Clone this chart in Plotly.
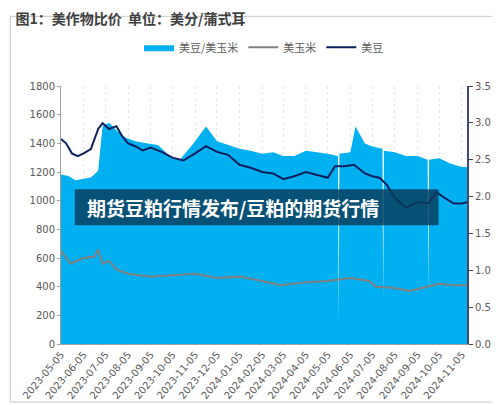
import plotly.graph_objects as go

ratio_dates = ["2023-05-05", "2023-05-15", "2023-05-25", "2023-06-05", "2023-06-15", "2023-06-25",
               "2023-07-01", "2023-07-10", "2023-07-20", "2023-08-01", "2023-08-15", "2023-09-01",
               "2023-09-15", "2023-10-01", "2023-10-15", "2023-11-01", "2023-11-20", "2023-12-05",
               "2023-12-20", "2024-01-05", "2024-01-20", "2024-02-05", "2024-02-20", "2024-03-05",
               "2024-03-20", "2024-04-05", "2024-04-20", "2024-05-05", "2024-05-19", "2024-05-20",
               "2024-05-21", "2024-06-05", "2024-06-12", "2024-06-25", "2024-07-05", "2024-07-19",
               "2024-07-20", "2024-07-21", "2024-08-05", "2024-08-20", "2024-09-05", "2024-09-19",
               "2024-09-20", "2024-09-21", "2024-10-05", "2024-10-20", "2024-11-05", "2024-11-12"]
ratio = [2.30, 2.28, 2.22, 2.24, 2.26, 2.35, 2.95, 3.00, 2.90, 2.80, 2.75, 2.72,
         2.70, 2.55, 2.50, 2.70, 2.95, 2.75, 2.70, 2.65, 2.62, 2.58, 2.60, 2.55,
         2.55, 2.62, 2.60, 2.58, 2.55, 0.30, 2.58, 2.60, 2.95, 2.72, 2.68, 2.65,
         0.60, 2.62, 2.60, 2.55, 2.55, 2.50, 0.70, 2.50, 2.52, 2.45, 2.40, 2.40]

soy_dates = ["2023-05-05", "2023-05-12", "2023-05-20", "2023-05-28", "2023-06-05", "2023-06-15",
             "2023-06-25", "2023-07-01", "2023-07-10", "2023-07-20", "2023-07-28", "2023-08-05",
             "2023-08-15", "2023-08-25", "2023-09-05", "2023-09-20", "2023-10-05", "2023-10-20",
             "2023-11-05", "2023-11-20", "2023-12-05", "2023-12-20", "2024-01-05", "2024-01-20",
             "2024-02-05", "2024-02-20", "2024-03-05", "2024-03-20", "2024-04-05", "2024-04-20",
             "2024-05-05", "2024-05-15", "2024-05-28", "2024-06-10", "2024-06-25", "2024-07-05",
             "2024-07-15", "2024-07-25", "2024-08-05", "2024-08-20", "2024-09-05", "2024-09-20",
             "2024-10-01", "2024-10-15", "2024-10-25", "2024-11-05", "2024-11-12"]
soy = [1430, 1400, 1330, 1310, 1330, 1360, 1500, 1540, 1500, 1520, 1450, 1400,
       1380, 1350, 1370, 1340, 1300, 1280, 1330, 1380, 1340, 1320, 1250, 1230,
       1200, 1190, 1150, 1170, 1200, 1180, 1160, 1240, 1240, 1250, 1190, 1170,
       1160, 1110, 1020, 950, 990, 980, 1060, 1010, 980, 980, 990]

corn_dates = ["2023-05-05", "2023-05-18", "2023-06-05", "2023-06-20", "2023-06-25", "2023-07-01",
              "2023-07-10", "2023-07-20", "2023-08-05", "2023-09-05", "2023-10-05", "2023-11-05",
              "2023-12-05", "2024-01-05", "2024-02-05", "2024-03-01", "2024-04-05", "2024-05-05",
              "2024-06-05", "2024-07-01", "2024-07-10", "2024-08-05", "2024-08-25", "2024-09-10",
              "2024-10-05", "2024-10-25", "2024-11-12"]
corn = [650, 560, 600, 610, 660, 560, 580, 520, 490, 470, 480, 490,
        460, 470, 440, 410, 430, 440, 460, 440, 400, 390, 370, 390,
        420, 410, 410]

tick_dates = ["2023-05-05", "2023-06-05", "2023-07-05", "2023-08-05", "2023-09-05", "2023-10-05",
              "2023-11-05", "2023-12-05", "2024-01-05", "2024-02-05", "2024-03-05", "2024-04-05",
              "2024-05-05", "2024-06-05", "2024-07-05", "2024-08-05", "2024-09-05", "2024-10-05",
              "2024-11-05"]

fig = go.Figure()

# ratio area sits on the base axis (drawn on the right), lines on the overlay so they stay on top
fig.add_trace(go.Scatter(x=ratio_dates, y=ratio, name="美豆/美玉米",
                         mode="lines", line=dict(width=0, color="#00b0f0"),
                         fill="tozeroy", fillcolor="#00b0f0"))
fig.add_trace(go.Scatter(x=corn_dates, y=corn, name="美玉米", mode="lines", yaxis="y2",
                         line=dict(color="#808080", width=2)))
fig.add_trace(go.Scatter(x=soy_dates, y=soy, name="美豆", mode="lines", yaxis="y2",
                         line=dict(color="#0d1f5c", width=2)))

tickfont = dict(size=10, color="#595959", family="DejaVu Sans")
fig.update_layout(
    width=500, height=405,
    margin=dict(l=53, r=41, t=78, b=62),
    paper_bgcolor="white", plot_bgcolor="white",
    font=dict(family="Noto Sans CJK SC"),
    title=dict(text="<b>图1：美作物比价  单位：美分/蒲式耳</b>", x=0.015, y=0.985,
               xanchor="left", yanchor="top", font=dict(size=14, color="#404040")),
    legend=dict(orientation="h", x=0.5, xanchor="center", y=1.15, yanchor="middle",
                font=dict(size=11, color="#595959"), traceorder="normal"),
    xaxis=dict(range=["2023-05-05", "2024-11-12"], tickvals=tick_dates, tickformat="%Y-%m-%d",
               tickangle=-50, tickfont=tickfont, showgrid=True, gridcolor="#e6e6e6",
               griddash="dot", showline=True, linecolor="#a0a0a0", ticks=""),
    yaxis=dict(range=[0, 3.5], dtick=0.5, tickformat=".1f", side="right",
               tickfont=tickfont, showgrid=False, showline=True, linecolor="#404a70",
               linewidth=2, ticks="outside", ticklen=4),
    yaxis2=dict(range=[0, 1800], dtick=200, tickfont=tickfont, showgrid=False,
                overlaying="y", side="left", showline=True, linecolor="#a0a0a0",
                ticks="outside", ticklen=3, tickcolor="#a0a0a0"),
)

fig.add_shape(type="rect", xref="paper", yref="paper", x0=0.034, x1=0.93, y0=0.46, y1=0.6,
              fillcolor="rgba(10,60,90,0.82)", line=dict(width=0), layer="above")
fig.add_annotation(text="<b>期货豆粕行情发布/豆粕的期货行情</b>", xref="paper", yref="paper",
                   x=0.06, y=0.53, xanchor="left", yanchor="middle", showarrow=False,
                   font=dict(size=19, color="white", family="Noto Sans CJK SC"))
fig.add_shape(type="rect", xref="paper", yref="paper", x0=-0.125, x1=1.1, y0=-0.225, y1=1.27,
              line=dict(color="#c8c8c8", width=1))

fig.write_html("out.html")
